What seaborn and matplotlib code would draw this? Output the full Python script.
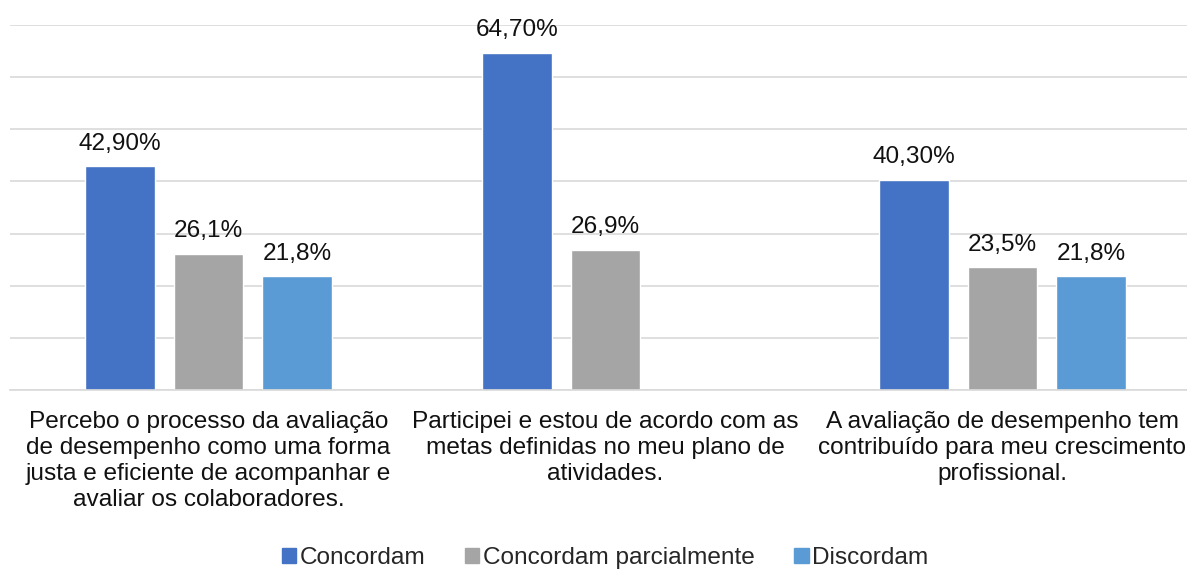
import matplotlib
matplotlib.use("Agg")
import matplotlib.pyplot as plt
import seaborn as sns
import pandas as pd
import numpy as np

categories = [
    "Percebo o processo da avaliação\nde desempenho como uma forma\njusta e eficiente de acompanhar e\navaliar os colaboradores.",
    "Participei e estou de acordo com as\nmetas definidas no meu plano de\natividades.",
    "A avaliação de desempenho tem\ncontribuído para meu crescimento\nprofissional.",
]
series = ["Concordam", "Concordam parcialmente", "Discordam"]
concordam = [42.9, 64.7, 40.3]
parcial = [26.1, 26.9, 23.5]
discordam = [21.8, np.nan, 21.8]
value_labels = {
    "Concordam": ["42,90%", "64,70%", "40,30%"],
    "Concordam parcialmente": ["26,1%", "26,9%", "23,5%"],
    "Discordam": ["21,8%", "", "21,8%"],
}
colors = ["#4472C4", "#A5A5A5", "#5B9BD5"]

sns.set_theme(style="white")
plt.rcParams["font.family"] = ["Liberation Sans", "DejaVu Sans"]
FS = 17.6

rows = []
for s, vals in zip(series, [concordam, parcial, discordam]):
    for c, v in zip(categories, vals):
        rows.append({"categoria": c, "grupo": s, "valor": v})
df = pd.DataFrame(rows)

W, H = 1187, 570
fig = plt.figure(figsize=(W / 100, H / 100), dpi=100)
ax = fig.add_axes([10 / W, (H - 390) / H, 1191 / W, 365 / H])

sns.barplot(data=df, x="categoria", y="valor", hue="grupo", hue_order=series,
            palette=colors, width=0.669, gap=0.215, saturation=1,
            errorbar=None, ax=ax, legend=False)

ax.set_xlim(-0.5, 2.5)
ax.set_ylim(0, 70)
ax.set_yticks(np.arange(0, 71, 10))
ax.yaxis.grid(True, color="#D9D9D9", linewidth=1.2)
ax.set_axisbelow(True)
for sp in ["top", "right", "left"]:
    ax.spines[sp].set_visible(False)
ax.spines["bottom"].set_color("#D9D9D9")
ax.spines["bottom"].set_linewidth(1.2)
ax.tick_params(axis="y", left=False, labelleft=False)
ax.tick_params(axis="x", bottom=False, pad=9, labelsize=FS, colors="#111111")
for t in ax.get_xticklabels():
    t.set_multialignment("center")
    t.set_linespacing(1.23)
ax.set_xlabel("")
ax.set_ylabel("")

# value labels above each drawn bar (missing values produce no bar)
series_values = {"Concordam": concordam, "Concordam parcialmente": parcial,
                 "Discordam": discordam}
for cont, s in zip(ax.containers, series):
    labels = [lab for lab, v in zip(value_labels[s], series_values[s])
              if np.isfinite(v)]
    for bar, lab in zip(cont, labels):
        h = bar.get_height()
        ax.annotate(lab, (bar.get_x() + bar.get_width() / 2, h),
                    xytext=(0, 12), textcoords="offset points",
                    ha="center", va="baseline", fontsize=FS,
                    color="#111111", annotation_clip=False)

handles = [plt.Rectangle((0, 0), 1, 1, color=c) for c in colors]
fig.legend(handles, series, loc="center", bbox_to_anchor=(605 / W, 12 / H),
           ncol=3, frameon=False, fontsize=FS, handlelength=0.6,
           handleheight=0.6, handletextpad=0.15, columnspacing=1.6,
           borderpad=0, borderaxespad=0)

fig.savefig("out.png", dpi=100)
